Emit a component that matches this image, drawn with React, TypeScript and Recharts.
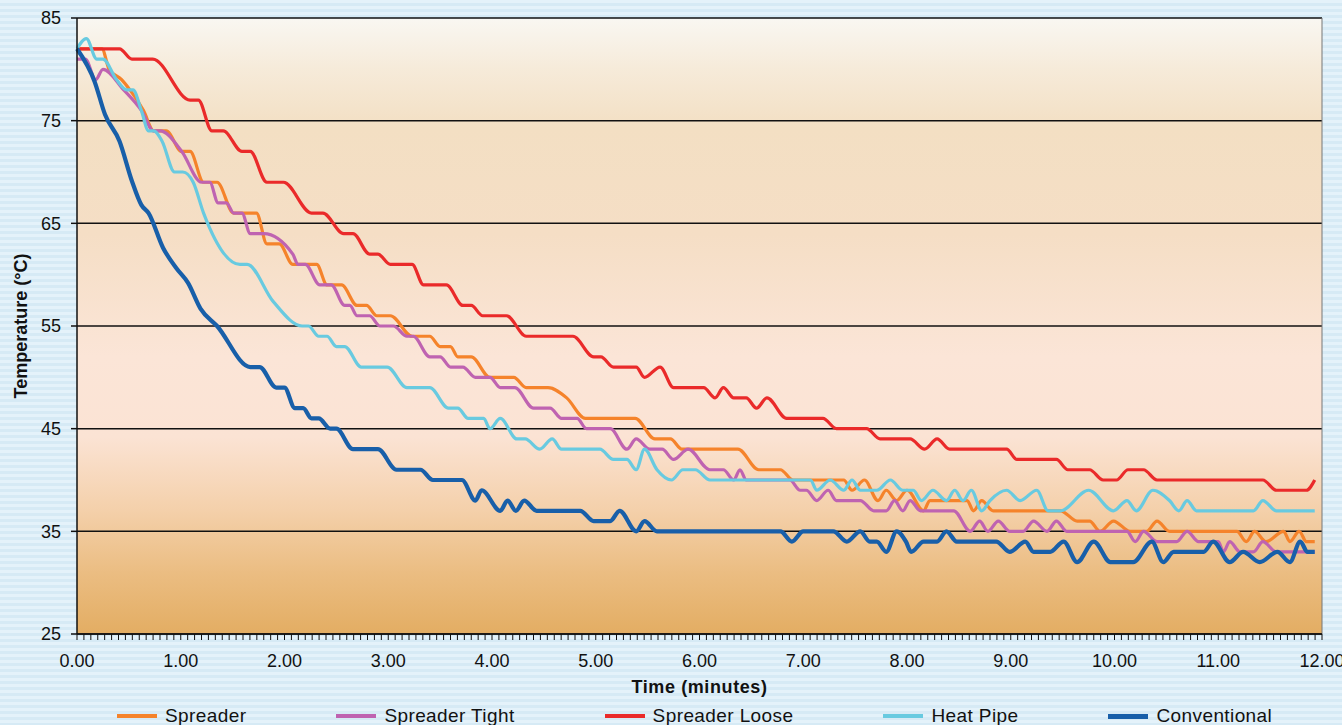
import React from 'react';
import { LineChart, Line, XAxis, YAxis, CartesianGrid, ReferenceLine } from 'recharts';

type Pt = [number, number];

// time (minutes), temperature (°C)
const spreader: Pt[] = [
  [0, 82], [0.24, 82], [0.31, 80], [0.43, 79], [0.51, 78], [0.64, 76], [0.74, 74], [0.86, 74],
  [1.01, 72], [1.09, 72], [1.22, 69], [1.35, 69], [1.51, 66], [1.73, 66], [1.83, 63], [1.95, 63],
  [2.08, 61], [2.31, 61], [2.41, 59], [2.55, 59], [2.7, 57], [2.79, 57], [2.89, 56], [3.02, 56],
  [3.23, 54], [3.4, 54], [3.5, 53], [3.6, 53], [3.67, 52], [3.8, 52], [3.98, 50], [4.21, 50],
  [4.33, 49], [4.54, 49], [4.72, 48], [4.9, 46], [5.38, 46], [5.57, 44], [5.72, 44], [5.83, 43],
  [6.37, 43], [6.57, 41], [6.78, 41], [6.9, 40], [7.39, 40], [7.47, 39], [7.59, 40], [7.72, 38],
  [7.8, 39], [7.9, 38], [8.0, 39], [8.16, 37], [8.22, 38], [8.58, 38], [8.64, 37], [8.72, 38],
  [8.83, 37], [9.48, 37], [9.64, 36], [9.76, 36], [9.86, 35], [9.99, 36], [10.15, 35], [10.31, 35],
  [10.41, 36], [10.53, 35], [11.18, 35], [11.27, 34], [11.35, 35], [11.46, 34], [11.63, 35],
  [11.69, 34], [11.78, 35], [11.85, 34], [11.93, 34],
];

const spreaderTight: Pt[] = [
  [0, 81], [0.08, 81], [0.18, 79], [0.25, 80], [0.45, 78], [0.62, 76], [0.74, 74], [0.8, 74],
  [1.01, 72], [1.2, 69], [1.28, 69], [1.36, 67], [1.44, 67], [1.51, 66], [1.59, 66], [1.67, 64],
  [1.8, 64], [2.08, 62], [2.13, 61], [2.2, 61], [2.34, 59], [2.45, 59], [2.58, 57], [2.63, 57],
  [2.7, 56], [2.82, 56], [2.92, 55], [3.05, 55], [3.18, 54], [3.24, 54], [3.4, 52], [3.5, 52],
  [3.6, 51], [3.72, 51], [3.84, 50], [3.98, 50], [4.08, 49], [4.22, 49], [4.4, 47], [4.56, 47],
  [4.67, 46], [4.82, 46], [4.91, 45], [5.14, 45], [5.3, 43], [5.39, 44], [5.52, 43], [5.64, 43],
  [5.75, 42], [5.89, 43], [6.1, 41], [6.23, 41], [6.33, 40], [6.39, 41], [6.45, 40], [6.87, 40],
  [6.97, 39], [7.03, 39], [7.13, 38], [7.24, 39], [7.32, 38], [7.55, 38], [7.68, 37], [7.8, 37],
  [7.88, 38], [7.96, 37], [8.03, 38], [8.13, 37], [8.45, 37], [8.61, 35], [8.7, 36], [8.78, 35],
  [8.88, 36], [8.99, 35], [9.12, 35], [9.22, 36], [9.35, 35], [9.44, 36], [9.54, 35], [10.12, 35],
  [10.2, 34], [10.28, 35], [10.41, 34], [10.6, 34], [10.7, 35], [10.81, 34], [11.0, 34],
  [11.05, 33], [11.11, 34], [11.21, 33], [11.34, 33], [11.43, 34], [11.56, 33], [11.93, 33],
];

const spreaderLoose: Pt[] = [
  [0, 82], [0.41, 82], [0.53, 81], [0.73, 81], [1.09, 77], [1.17, 77], [1.3, 74], [1.41, 74],
  [1.59, 72], [1.67, 72], [1.83, 69], [1.99, 69], [2.26, 66], [2.37, 66], [2.57, 64], [2.66, 64],
  [2.82, 62], [2.9, 62], [3.02, 61], [3.23, 61], [3.34, 59], [3.56, 59], [3.72, 57], [3.8, 57],
  [3.91, 56], [4.14, 56], [4.33, 54], [4.78, 54], [4.98, 52], [5.05, 52], [5.17, 51], [5.39, 51],
  [5.47, 50], [5.62, 51], [5.75, 49], [6.04, 49], [6.15, 48], [6.23, 49], [6.33, 48], [6.45, 48],
  [6.55, 47], [6.65, 48], [6.84, 46], [7.19, 46], [7.32, 45], [7.61, 45], [7.74, 44], [8.03, 44],
  [8.17, 43], [8.29, 44], [8.41, 43], [8.96, 43], [9.06, 42], [9.44, 42], [9.55, 41], [9.76, 41],
  [9.89, 40], [10.02, 40], [10.13, 41], [10.28, 41], [10.41, 40], [11.43, 40], [11.56, 39],
  [11.85, 39], [11.93, 40],
];

const heatPipe: Pt[] = [
  [0, 82], [0.09, 83], [0.19, 81], [0.25, 81], [0.38, 79], [0.48, 78], [0.54, 78], [0.62, 76],
  [0.69, 74], [0.74, 74], [0.82, 73], [0.94, 70], [1.02, 70], [1.12, 69], [1.22, 66], [1.57, 61],
  [1.64, 61], [1.89, 57.4], [2.17, 55], [2.23, 55], [2.33, 54], [2.41, 54], [2.5, 53], [2.58, 53],
  [2.74, 51], [2.99, 51], [3.18, 49], [3.4, 49], [3.58, 47], [3.67, 47], [3.77, 46], [3.92, 46],
  [3.98, 45], [4.08, 46], [4.24, 44], [4.32, 44], [4.46, 43], [4.58, 44], [4.67, 43], [5.04, 43],
  [5.17, 42], [5.3, 42], [5.39, 41], [5.47, 43], [5.59, 41], [5.73, 40], [5.84, 41], [5.96, 41],
  [6.1, 40], [7.07, 40], [7.13, 39], [7.26, 40], [7.39, 39], [7.47, 40], [7.55, 39], [7.71, 39],
  [7.84, 40], [7.96, 39], [8.06, 39], [8.14, 38], [8.25, 39], [8.38, 38], [8.46, 39], [8.54, 38],
  [8.62, 39], [8.72, 37], [8.8, 38], [8.96, 39], [9.09, 38], [9.25, 39], [9.36, 37], [9.48, 37],
  [9.75, 39], [9.99, 37], [10.12, 38], [10.21, 37], [10.37, 39], [10.53, 38], [10.62, 37],
  [10.7, 38], [10.79, 37], [11.34, 37], [11.43, 38], [11.56, 37], [11.93, 37],
];

const conventional: Pt[] = [
  [0, 82], [0.17, 78.8], [0.27, 75.6], [0.41, 73], [0.53, 69.1], [0.62, 66.8], [0.69, 66],
  [0.83, 62.6], [0.96, 60.6], [1.07, 59.2], [1.19, 56.7], [1.35, 55], [1.67, 51], [1.76, 51],
  [1.92, 49], [2.0, 49], [2.1, 47], [2.18, 47], [2.26, 46], [2.33, 46], [2.44, 45], [2.5, 45],
  [2.66, 43], [2.9, 43], [3.08, 41], [3.31, 41], [3.43, 40], [3.71, 40], [3.84, 38], [3.9, 39],
  [4.08, 37], [4.15, 38], [4.23, 37], [4.31, 38], [4.43, 37], [4.85, 37], [4.98, 36], [5.14, 36],
  [5.23, 37], [5.39, 35], [5.47, 36], [5.59, 35], [6.78, 35], [6.89, 34], [7.0, 35], [7.29, 35],
  [7.42, 34], [7.55, 35], [7.64, 34], [7.71, 34], [7.8, 33], [7.9, 35], [7.99, 34], [8.04, 33],
  [8.16, 34], [8.29, 34], [8.38, 35], [8.48, 34], [8.86, 34], [8.99, 33], [9.14, 34], [9.22, 33],
  [9.38, 33], [9.51, 34], [9.64, 32], [9.8, 34], [9.96, 32], [10.18, 32], [10.36, 34], [10.47, 32],
  [10.57, 33], [10.86, 33], [10.95, 34], [11.11, 32], [11.24, 33], [11.4, 32], [11.57, 33],
  [11.69, 32], [11.79, 34], [11.86, 33], [11.93, 33],
];

const yTicks = [25, 35, 45, 55, 65, 75, 85];
const xLabels = [0, 1, 2, 3, 4, 5, 6, 7, 8, 9, 10, 11, 12];
// the category axis has a tick mark every 4 seconds
const minorTicks = Array.from({ length: 181 }, (_, i) => i / 15);

const series = [
  { name: 'Spreader', color: '#F5832B', width: 3.2, points: spreader },
  { name: 'Spreader Tight', color: '#BF63B1', width: 3.2, points: spreaderTight },
  { name: 'Spreader Loose', color: '#EA2A2A', width: 3.2, points: spreaderLoose },
  { name: 'Heat Pipe', color: '#68CAE0', width: 3.2, points: heatPipe },
  { name: 'Conventional', color: '#185FA9', width: 4.2, points: conventional },
];

const FONT = '"Liberation Sans", Arial, sans-serif';

function XTick(props: any) {
  const { x, y, payload } = props;
  const v = payload.value;
  if (!xLabels.some(l => Math.abs(l - v) < 1e-6)) return null;
  return (
    <text x={x} y={y} dy="0.71em" textAnchor="middle" fill="#111" fontSize={18} fontFamily={FONT}>
      {Number(v).toFixed(2)}
    </text>
  );
}

export default function App() {
  return (
    <div
      style={{
        position: 'absolute', left: 0, top: 0, width: 1342, height: 725, overflow: 'hidden',
        fontFamily: FONT,
        background: 'repeating-linear-gradient(to bottom, #e4f2fa 0px, #e4f2fa 3px, #d6eaf5 3px, #d6eaf5 6px)',
      }}
    >
      <LineChart width={1342} height={725} margin={{ top: 18, right: 20, left: 0, bottom: 0 }}>
        <defs>
          <linearGradient id="plotBg" x1="0" y1="0" x2="0" y2="1">
            <stop offset="0%" stopColor="#f9f7f2" />
            <stop offset="8%" stopColor="#f6ebda" />
            <stop offset="18%" stopColor="#f3dfc3" />
            <stop offset="35%" stopColor="#f5dec5" />
            <stop offset="55%" stopColor="#fbe5d7" />
            <stop offset="68%" stopColor="#fbe3d4" />
            <stop offset="80%" stopColor="#f4d0aa" />
            <stop offset="90%" stopColor="#ebbd82" />
            <stop offset="100%" stopColor="#e3ad63" />
          </linearGradient>
        </defs>
        <CartesianGrid vertical={false} stroke="#111" strokeWidth={1.5} fill="url(#plotBg)" fillOpacity={1} />
        <XAxis
          dataKey="t" type="number" domain={[0, 12]} ticks={minorTicks} interval={0}
          height={91} tickSize={6} tickMargin={14}
          axisLine={{ stroke: '#111', strokeWidth: 1.5 }} tickLine={{ stroke: '#111', strokeWidth: 1 }}
          tick={<XTick />}
          label={{ value: 'Time (minutes)', position: 'insideTop', offset: 46, fill: '#111', fontSize: 18, fontWeight: 'bold', fontFamily: FONT, style: { letterSpacing: 0.6 } }}
        />
        <YAxis
          type="number" domain={[25, 85]} ticks={yTicks} interval={0} width={77}
          tickSize={6} tickMargin={10}
          axisLine={{ stroke: '#111', strokeWidth: 1.5 }} tickLine={{ stroke: '#111', strokeWidth: 1.5 }}
          tick={{ fill: '#111', fontSize: 18, fontFamily: FONT }}
          label={{ value: 'Temperature (°C)', angle: -90, position: 'insideLeft', offset: 21, fill: '#111', fontSize: 18, fontWeight: 'bold', fontFamily: FONT, style: { textAnchor: 'middle' } }}
        />
        <ReferenceLine x={12} stroke="#777" strokeWidth={1} />
        {series.map(s => (
          <Line
            key={s.name}
            name={s.name}
            data={s.points.map(([t, v]) => ({ t, v }))}
            dataKey="v"
            type="monotone"
            stroke={s.color}
            strokeWidth={s.width}
            dot={false}
            activeDot={false}
            isAnimationActive={false}
          />
        ))}
      </LineChart>
      <div
        style={{
          position: 'absolute', top: 705, left: 117, display: 'flex', alignItems: 'center',
          gap: 90, fontSize: 19, lineHeight: '22px', color: '#111', letterSpacing: 0.4,
        }}
      >
        {series.map(s => (
          <div key={s.name} style={{ display: 'flex', alignItems: 'center' }}>
            <span style={{ display: 'inline-block', width: 40, height: Math.round(s.width + 1), background: s.color, marginRight: 8 }} />
            <span>{s.name}</span>
          </div>
        ))}
      </div>
    </div>
  );
}
